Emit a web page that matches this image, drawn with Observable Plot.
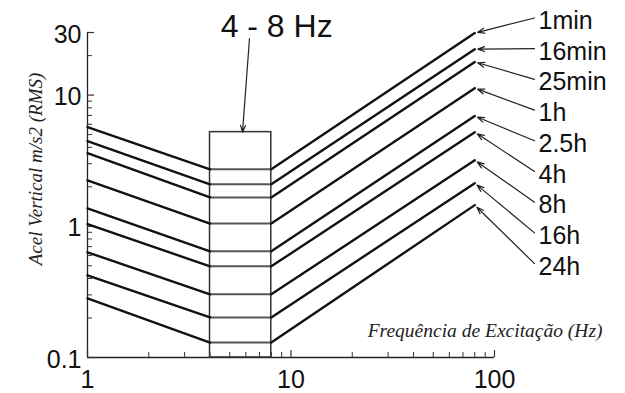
<!DOCTYPE html>
<html><head><meta charset="utf-8">
<script src="https://cdn.jsdelivr.net/npm/d3@7"></script>
<script src="https://cdn.jsdelivr.net/npm/@observablehq/plot@0.6"></script>
<style>body{margin:0;background:#fff} #chart{width:625px;height:393px}</style>
</head><body><div id="chart"></div>
<script>
const durations = ["1min","16min","25min","1h","2.5h","4h","8h","16h","24h"];
const accelAt1Hz = [5.7, 4.46, 3.61, 2.24, 1.37, 1.04, 0.634, 0.423, 0.282];
const accel4to8Hz = [2.72, 2.09, 1.66, 1.05, 0.644, 0.495, 0.303, 0.202, 0.130];
const accelAt80Hz = [29.7, 22.4, 17.9, 11.3, 6.92, 5.22, 3.19, 2.13, 1.45];
const freqStart = 1, bandLow = 4, bandHigh = 8, freqEnd = 80;
const bandTop = 5.22;
const bandLabel = "4 - 8 Hz";
const xTickLabels = [1, 10, 100];
const yTickLabels = [0.1, 1, 10, 30];
const xMinorTicks = [2,3,4,5,6,7,8,9,20,30,40,50,60,70,80,90];
const yMinorTicks = [0.2,0.3,0.4,0.5,0.6,0.7,0.8,0.9,2,3,4,5,6,7,8,9,20];
const xTitle = "Frequência de Excitação (Hz)";
const yTitle = "Acel Vertical m/s2 (RMS)";

const W = 625, H = 393, mL = 87, mR = 131, mT = 32, mB = 36;
const frameW = W - mL - mR, frameH = H - mT - mB;
const xs = Plot.scale({x: {type: "log", domain: [1, 100], range: [mL, W - mR]}});
const ys = Plot.scale({y: {type: "log", domain: [0.1, 30], range: [H - mB, mT]}});

const slopeRows = [], flatRows = [];
durations.forEach((d, i) => {
  slopeRows.push({key: d + "L", x: freqStart, y: accelAt1Hz[i]}, {key: d + "L", x: bandLow, y: accel4to8Hz[i]});
  slopeRows.push({key: d + "R", x: bandHigh, y: accel4to8Hz[i]}, {key: d + "R", x: freqEnd, y: accelAt80Hz[i]});
  flatRows.push({key: d, x: bandLow, y: accel4to8Hz[i]}, {key: d, x: bandHigh, y: accel4to8Hz[i]});
});

const labelCenter = i => 20.5 + i * 30.7;
const labelX = xs.invert(538);
const arrowX = xs.invert(534);
const bandCenter = Math.sqrt(bandLow * bandHigh);
const serif = "Liberation Serif, Times New Roman, serif";

const chart = Plot.plot({
  width: W, height: H,
  marginLeft: mL, marginRight: mR, marginTop: mT, marginBottom: mB,
  x: {type: "log", domain: [1, 100], axis: null},
  y: {type: "log", domain: [0.1, 30], axis: null},
  style: {fontFamily: "Liberation Sans, Arial, sans-serif", background: "white", color: "#111", overflow: "visible"},
  marks: [
    // axis lines
    Plot.ruleX([1], {stroke: "#222", strokeWidth: 1.3}),
    Plot.ruleY([0.1], {stroke: "#222", strokeWidth: 1.3}),
    // ticks (inward)
    Plot.tickX(xMinorTicks, {x: d => d, insetTop: frameH - 5, stroke: "#333", strokeWidth: 1}),
    Plot.tickX(xTickLabels, {x: d => d, insetTop: frameH - 7, stroke: "#333", strokeWidth: 1.2}),
    Plot.tickY(yMinorTicks, {y: d => d, insetRight: frameW - 5, stroke: "#333", strokeWidth: 1}),
    Plot.tickY(yTickLabels, {y: d => d, insetRight: frameW - 7, stroke: "#333", strokeWidth: 1.2}),
    // tick labels
    Plot.text(xTickLabels, {x: d => d, frameAnchor: "bottom", lineAnchor: "middle", dy: 22, text: d => String(d), fontSize: 25, fill: "#111"}),
    Plot.text(yTickLabels, {y: d => d, frameAnchor: "left", lineAnchor: "middle", dx: -6, dy: 2, textAnchor: "end", text: d => String(d), fontSize: 25, fill: "#111"}),
    // band box
    Plot.rect([0], {x1: bandLow, x2: bandHigh, y1: 0.1, y2: bandTop, fill: "none", stroke: "#333", strokeWidth: 1.5}),
    // curves
    Plot.line(flatRows, {x: "x", y: "y", z: "key", stroke: "#555", strokeWidth: 2}),
    Plot.line(slopeRows, {x: "x", y: "y", z: "key", stroke: "#111", strokeWidth: 2.4}),
    // band label + arrow
    Plot.text([bandLabel], {x: bandCenter, frameAnchor: "top", lineAnchor: "middle", dx: 36, dy: -6, text: d => d, fontSize: 32, fill: "#111"}),
    Plot.arrow([0], {x1: xs.invert(249), y1: ys.invert(38), x2: xs.invert(242), y2: bandTop, stroke: "#222", strokeWidth: 1.2, headLength: 9, headAngle: 40}),
    // duration labels + leader arrows
    Plot.text(durations, {x: labelX, y: (d, i) => ys.invert(labelCenter(i)), text: d => d, textAnchor: "start", lineAnchor: "middle", fontSize: 25, fill: "#111"}),
    Plot.arrow(durations, {x1: arrowX, y1: (d, i) => ys.invert(labelCenter(i) - 3), x2: freqEnd, y2: (d, i) => accelAt80Hz[i], insetEnd: 3, stroke: "#222", strokeWidth: 1.2, headLength: 9, headAngle: 40}),
    // axis titles
    Plot.text([xTitle], {frameAnchor: "bottom-right", lineAnchor: "middle", dx: 108, dy: -27, textAnchor: "end", text: d => d, fontSize: 19.5, fontStyle: "italic", fontFamily: serif, fill: "#222"}),
    Plot.text([yTitle], {frameAnchor: "left", textAnchor: "middle", lineAnchor: "middle", dx: -52, dy: -26, rotate: -90, text: d => d, fontSize: 19, fontStyle: "italic", fontFamily: serif, fill: "#222"})
  ]
});
document.getElementById("chart").appendChild(chart);
</script>
</body></html>
